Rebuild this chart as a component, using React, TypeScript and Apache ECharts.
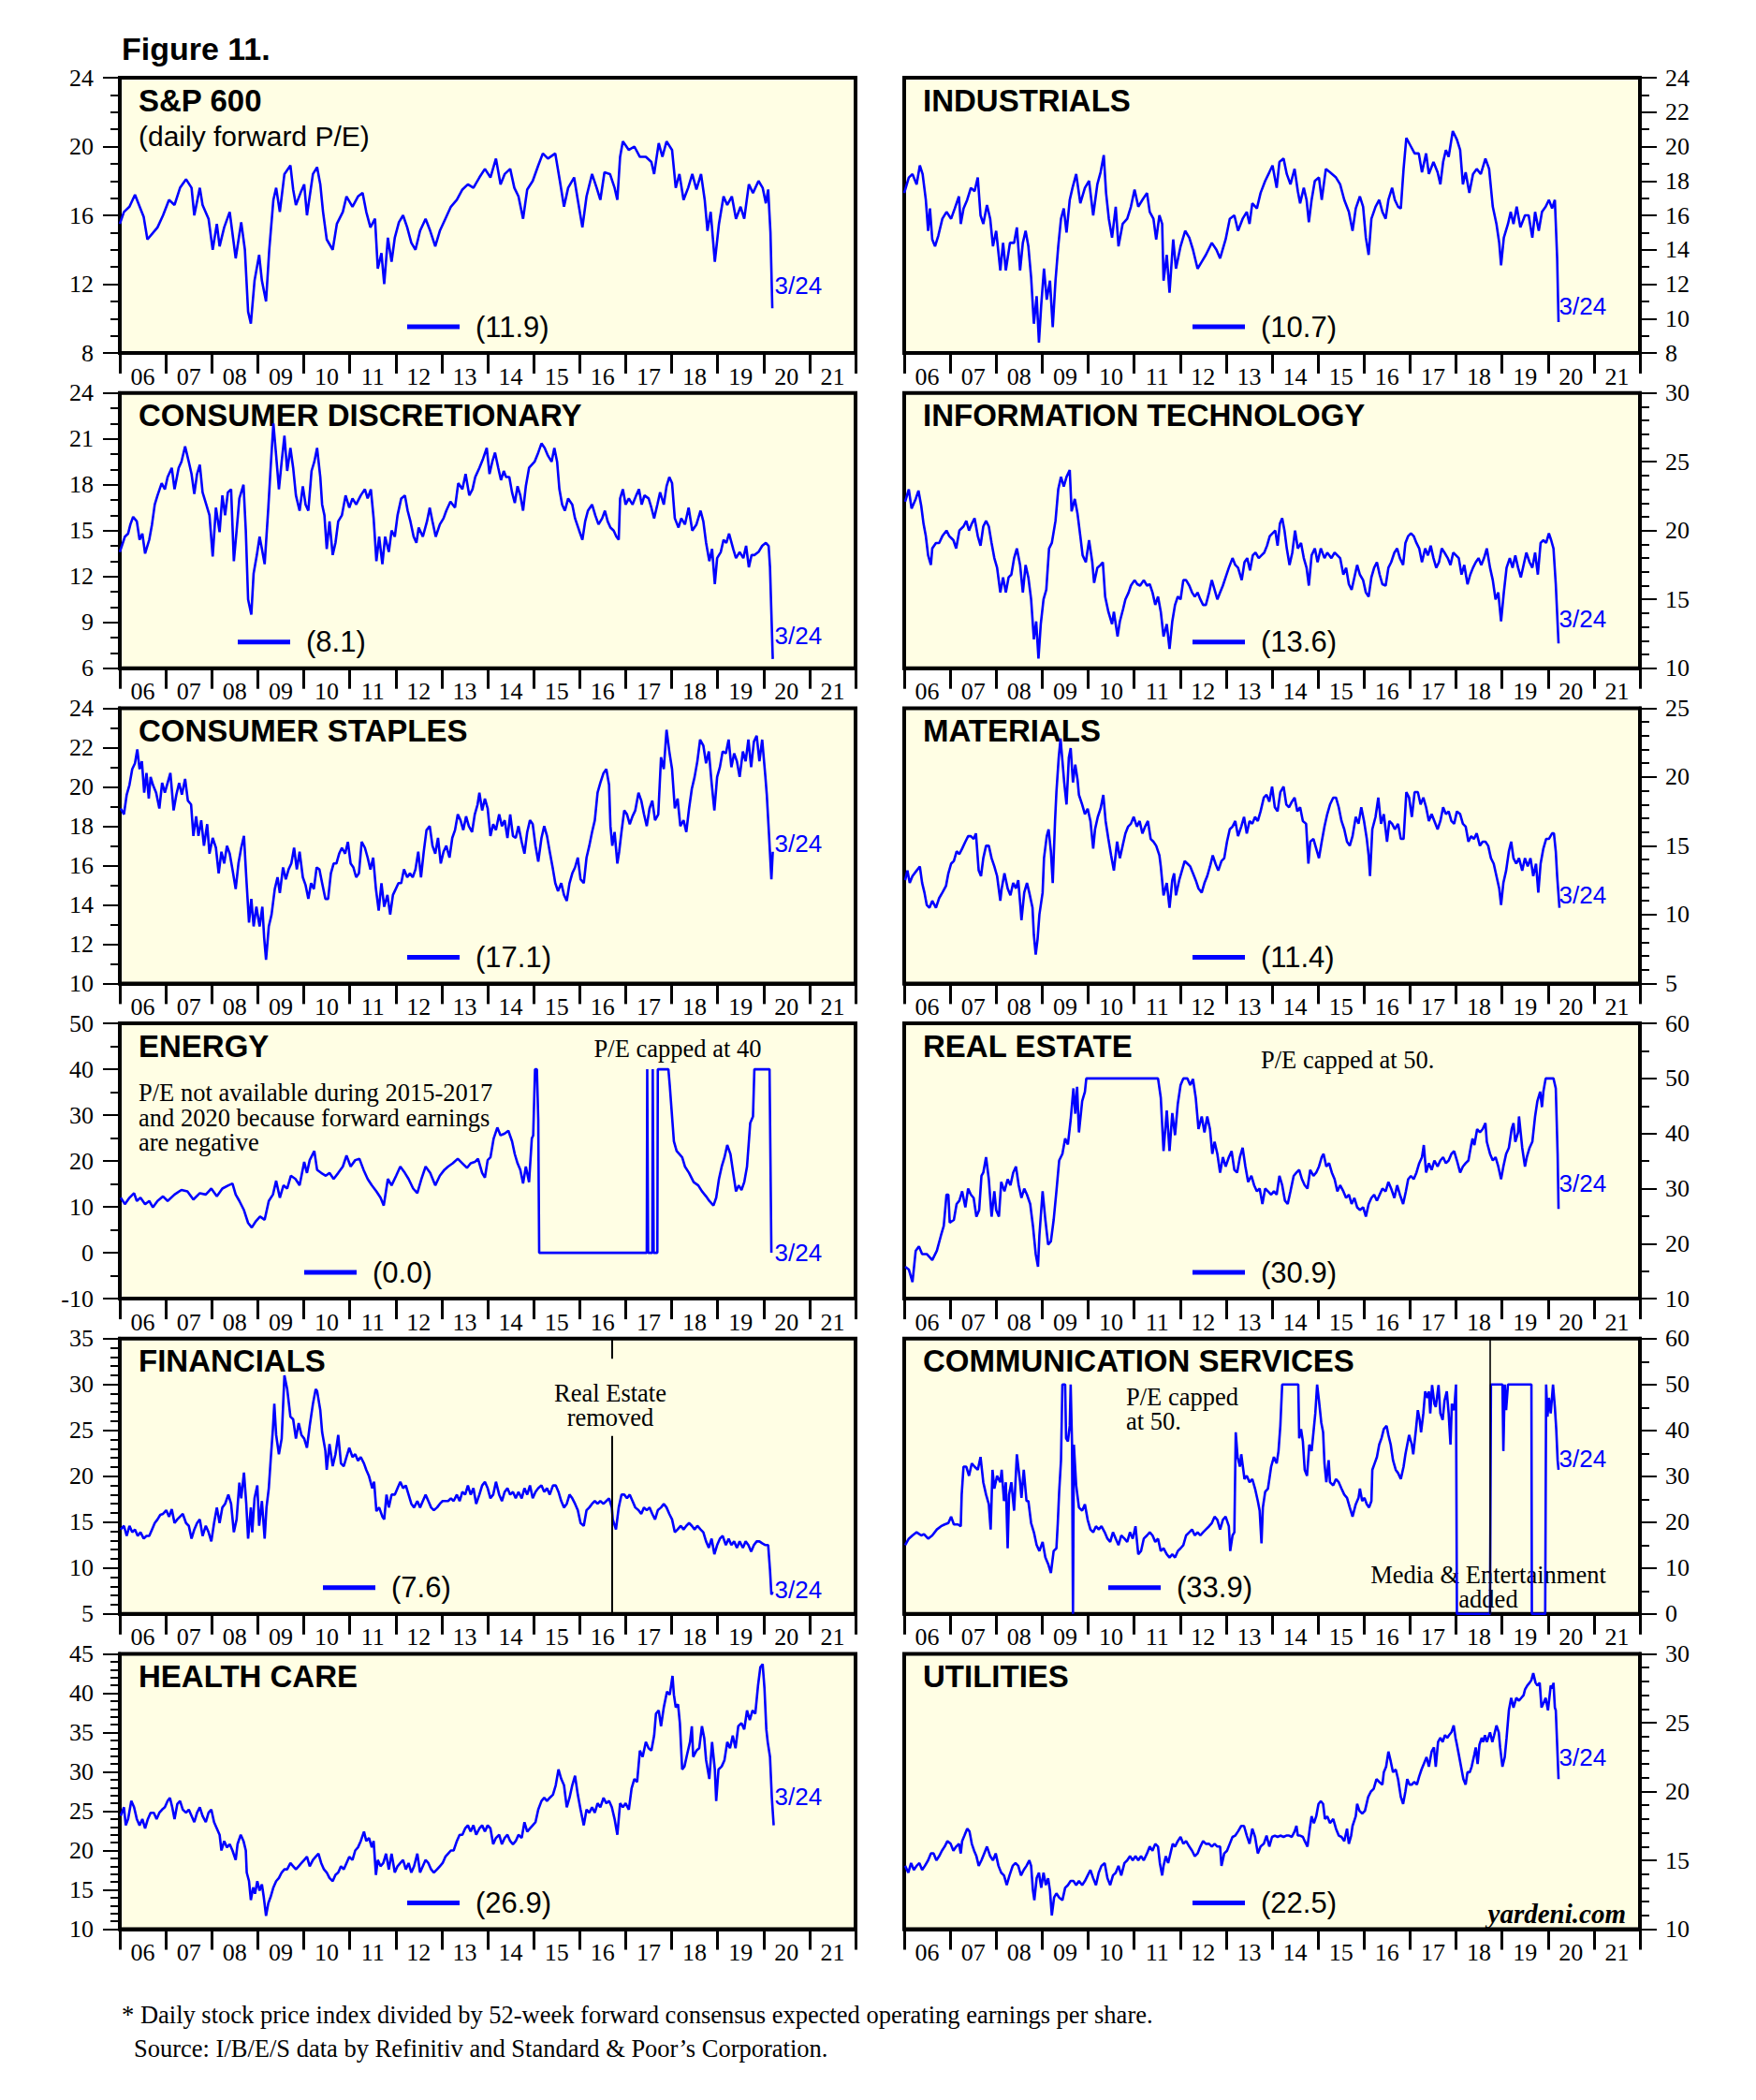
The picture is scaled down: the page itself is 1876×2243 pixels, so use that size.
import React, { useEffect, useRef } from "react";
import * as echarts from "echarts";

type Pt = [number, number];

// x labels (years) shown under every panel
const YEAR_LABELS = ["06", "07", "08", "09", "10", "11", "12", "13", "14", "15", "16", "17", "18", "19", "20", "21"];

// Series values: [years since 2006-01-01, forward P/E]
const SP600: Pt[] = [[0,15.5],[.09,16.2],[.21,16.5],[.33,17.2],[.52,15.9],[.60,14.6],[.82,15.3],[.94,16.0],[1.07,16.9],[1.19,16.6],[1.31,17.6],[1.44,18.1],[1.56,17.6],[1.62,16.0],[1.74,17.6],[1.80,16.6],[1.93,15.8],[2.02,14.0],[2.11,15.5],[2.17,14.2],[2.27,15.3],[2.39,16.2],[2.52,13.5],[2.64,15.6],[2.72,14.0],[2.79,10.4],[2.85,9.7],[2.93,12.2],[3.03,13.7],[3.09,12.2],[3.18,11.0],[3.25,14.0],[3.34,16.9],[3.40,17.6],[3.48,16.2],[3.58,18.4],[3.71,18.9],[3.77,17.5],[3.83,16.6],[3.93,17.3],[4.01,17.8],[4.07,16.0],[4.20,18.4],[4.29,18.8],[4.36,17.8],[4.42,16.2],[4.50,14.6],[4.63,14.0],[4.72,15.5],[4.85,16.2],[4.93,17.1],[5.06,16.5],[5.18,17.1],[5.28,17.3],[5.36,16.2],[5.45,15.3],[5.55,15.8],[5.61,12.9],[5.69,13.8],[5.75,12.0],[5.83,14.7],[5.91,13.3],[5.98,14.7],[6.07,15.6],[6.16,16.0],[6.25,15.3],[6.34,14.4],[6.43,14.0],[6.53,15.1],[6.65,15.8],[6.75,15.1],[6.86,14.2],[6.96,15.1],[7.08,15.8],[7.20,16.5],[7.33,16.9],[7.45,17.5],[7.57,17.8],[7.69,17.6],[7.82,18.2],[7.94,18.7],[8.06,18.2],[8.18,19.3],[8.28,17.8],[8.37,18.4],[8.49,18.7],[8.58,17.6],[8.67,17.1],[8.77,15.8],[8.86,17.5],[8.98,18.0],[9.10,18.9],[9.20,19.6],[9.31,19.3],[9.47,19.6],[9.57,18.0],[9.66,16.5],[9.75,17.6],[9.88,18.2],[9.96,16.9],[10.06,15.3],[10.15,17.1],[10.27,18.4],[10.37,17.6],[10.45,16.9],[10.54,18.5],[10.66,18.4],[10.76,17.6],[10.82,16.9],[10.88,19.4],[10.94,20.3],[11.07,19.8],[11.19,20.0],[11.31,19.4],[11.44,19.4],[11.56,19.1],[11.62,18.4],[11.72,20.2],[11.80,19.4],[11.89,20.3],[12.01,19.8],[12.09,17.6],[12.17,18.4],[12.26,16.9],[12.36,17.6],[12.45,18.4],[12.54,17.5],[12.64,18.4],[12.72,16.9],[12.78,15.1],[12.85,16.2],[12.94,13.3],[13.03,15.5],[13.13,17.1],[13.21,16.6],[13.31,17.1],[13.40,15.8],[13.50,16.5],[13.58,15.8],[13.68,17.8],[13.77,17.3],[13.89,18.0],[13.98,17.6],[14.05,16.7],[14.10,17.5],[14.15,15.0],[14.19,10.6]];

const INDUSTRIALS: Pt[] = [[0,17.3],[.10,18.2],[.18,18.4],[.27,17.8],[.34,18.9],[.40,18.4],[.47,16.9],[.52,15.1],[.56,16.4],[.61,14.6],[.67,14.2],[.74,14.8],[.83,15.8],[.92,16.2],[1.02,15.8],[1.10,16.4],[1.19,17.1],[1.23,15.5],[1.29,16.4],[1.37,16.9],[1.45,17.6],[1.53,17.4],[1.60,18.2],[1.66,16.0],[1.72,15.5],[1.80,16.6],[1.87,15.8],[1.93,14.2],[2.00,15.1],[2.09,12.8],[2.15,14.4],[2.21,12.8],[2.30,14.4],[2.39,14.4],[2.45,15.3],[2.52,12.8],[2.58,14.4],[2.64,15.1],[2.70,14.2],[2.76,12.4],[2.82,9.7],[2.88,11.3],[2.93,8.6],[2.98,10.8],[3.04,12.9],[3.10,11.1],[3.17,12.2],[3.23,9.5],[3.29,12.2],[3.35,14.2],[3.41,15.8],[3.47,16.4],[3.53,15.0],[3.60,16.9],[3.66,17.6],[3.74,18.4],[3.83,16.7],[3.93,17.6],[4.02,18.0],[4.11,16.0],[4.20,17.8],[4.27,18.5],[4.34,19.5],[4.39,17.3],[4.45,15.8],[4.52,14.7],[4.60,16.5],[4.66,14.2],[4.75,15.5],[4.85,15.8],[4.93,16.5],[5.01,17.5],[5.09,16.5],[5.18,16.9],[5.28,17.3],[5.34,16.2],[5.42,15.8],[5.48,14.6],[5.55,16.0],[5.61,15.5],[5.64,12.2],[5.71,13.7],[5.77,11.5],[5.85,14.6],[5.91,12.9],[6.01,14.2],[6.11,15.1],[6.20,14.7],[6.28,14.0],[6.38,12.9],[6.47,13.3],[6.56,13.7],[6.69,14.4],[6.79,14.0],[6.87,13.5],[6.99,14.6],[7.08,15.8],[7.18,16.0],[7.26,15.1],[7.36,15.8],[7.45,16.2],[7.51,15.5],[7.57,16.7],[7.67,16.4],[7.75,17.3],[7.85,18.0],[7.94,18.5],[8.01,18.9],[8.10,17.6],[8.16,19.1],[8.25,19.3],[8.32,18.4],[8.40,17.8],[8.49,18.7],[8.56,17.4],[8.61,16.7],[8.69,17.6],[8.75,16.9],[8.80,15.6],[8.86,16.9],[8.93,18.0],[9.02,18.2],[9.08,16.9],[9.17,18.7],[9.26,18.5],[9.39,18.2],[9.48,17.8],[9.57,16.9],[9.67,16.2],[9.75,15.1],[9.82,16.4],[9.91,17.1],[9.98,16.5],[10.04,14.7],[10.10,13.7],[10.16,15.8],[10.25,16.5],[10.33,16.9],[10.40,16.2],[10.47,15.8],[10.53,16.9],[10.61,17.6],[10.67,16.9],[10.74,16.5],[10.80,16.4],[10.86,18.7],[10.92,20.5],[11.02,20.0],[11.10,19.6],[11.19,19.6],[11.26,18.5],[11.35,19.6],[11.41,18.4],[11.51,19.1],[11.60,18.5],[11.66,17.8],[11.72,19.1],[11.78,19.8],[11.84,19.4],[11.93,20.9],[12.02,20.4],[12.09,19.8],[12.15,17.8],[12.21,18.5],[12.29,17.3],[12.37,18.4],[12.45,18.7],[12.54,18.4],[12.64,19.3],[12.72,18.7],[12.80,16.5],[12.88,15.5],[12.94,14.4],[12.98,13.1],[13.04,14.7],[13.13,15.5],[13.19,16.2],[13.25,15.5],[13.32,16.5],[13.40,15.3],[13.50,16.0],[13.58,16.0],[13.66,14.7],[13.72,16.2],[13.80,15.1],[13.87,16.2],[13.95,16.5],[14.02,16.9],[14.09,16.4],[14.15,16.9],[14.20,13.5],[14.23,9.8]];

const CONS_DISC: Pt[] = [[0,13.6],[.11,14.6],[.18,14.8],[.23,15.4],[.29,15.9],[.37,15.6],[.43,14.4],[.49,14.8],[.55,13.5],[.64,14.4],[.70,15.4],[.76,16.7],[.82,17.3],[.91,18.1],[.98,17.7],[1.04,18.5],[1.13,19.1],[1.19,17.7],[1.28,19.1],[1.34,19.5],[1.42,20.5],[1.50,19.5],[1.56,18.7],[1.62,17.4],[1.68,18.7],[1.74,19.3],[1.80,17.5],[1.88,16.7],[1.95,16.0],[2.02,13.3],[2.09,16.5],[2.17,14.9],[2.23,17.3],[2.29,16.0],[2.35,17.5],[2.42,17.7],[2.48,13.0],[2.54,15.0],[2.60,17.1],[2.69,18.0],[2.74,15.0],[2.79,10.5],[2.86,9.5],[2.91,12.2],[2.98,13.4],[3.04,14.6],[3.09,13.8],[3.15,12.8],[3.23,16.5],[3.28,19.1],[3.34,22.0],[3.40,19.9],[3.46,17.7],[3.52,19.5],[3.58,21.2],[3.64,18.9],[3.71,20.4],[3.77,19.1],[3.83,17.3],[3.91,16.3],[3.98,17.9],[4.04,16.7],[4.10,16.3],[4.17,18.9],[4.23,19.5],[4.29,20.4],[4.36,18.5],[4.40,16.7],[4.45,16.0],[4.50,13.8],[4.56,15.6],[4.63,13.4],[4.69,14.2],[4.75,15.6],[4.83,16.0],[4.91,17.3],[4.99,16.5],[5.06,17.1],[5.14,16.7],[5.24,17.3],[5.33,17.7],[5.39,17.1],[5.46,17.7],[5.52,15.8],[5.58,13.0],[5.64,14.6],[5.71,12.8],[5.77,14.6],[5.85,13.6],[5.91,15.0],[5.98,14.6],[6.04,16.0],[6.12,17.1],[6.20,17.3],[6.26,16.3],[6.32,15.6],[6.39,14.6],[6.45,14.2],[6.50,15.2],[6.59,14.6],[6.68,15.6],[6.74,16.5],[6.80,15.6],[6.87,14.6],[6.96,15.4],[7.04,15.8],[7.10,16.3],[7.19,16.9],[7.29,16.5],[7.36,18.1],[7.45,17.7],[7.52,18.7],[7.60,17.3],[7.67,17.7],[7.73,18.5],[7.82,19.1],[7.90,19.7],[7.98,20.4],[8.04,18.7],[8.10,19.5],[8.16,20.1],[8.23,19.1],[8.29,18.3],[8.35,18.9],[8.40,18.5],[8.47,18.5],[8.53,17.5],[8.59,16.8],[8.65,17.9],[8.71,17.3],[8.77,16.3],[8.83,17.9],[8.90,19.1],[8.96,19.3],[9.02,19.5],[9.10,20.1],[9.17,20.7],[9.24,20.4],[9.31,19.9],[9.39,19.5],[9.45,20.4],[9.51,19.5],[9.56,17.7],[9.62,16.7],[9.68,16.3],[9.75,17.1],[9.84,16.7],[9.90,15.8],[9.99,15.0],[10.06,14.4],[10.12,15.6],[10.18,16.3],[10.27,16.7],[10.34,16.0],[10.41,15.4],[10.49,15.8],[10.55,16.3],[10.61,15.6],[10.67,15.2],[10.74,15.0],[10.80,14.6],[10.85,14.4],[10.88,17.1],[10.94,17.7],[11.00,16.7],[11.07,17.1],[11.15,16.7],[11.23,17.3],[11.29,17.7],[11.35,16.7],[11.41,17.3],[11.50,17.1],[11.56,16.5],[11.62,15.8],[11.69,16.7],[11.75,17.5],[11.83,16.7],[11.89,17.9],[11.95,18.5],[12.01,18.1],[12.07,15.8],[12.15,15.2],[12.21,15.8],[12.29,15.4],[12.37,16.5],[12.45,15.0],[12.54,15.4],[12.63,16.3],[12.69,15.6],[12.75,14.2],[12.82,13.0],[12.88,13.8],[12.94,11.5],[12.99,13.2],[13.07,13.6],[13.13,14.4],[13.19,14.2],[13.25,14.8],[13.34,13.8],[13.40,13.2],[13.48,13.6],[13.56,13.2],[13.62,14.0],[13.68,12.6],[13.74,13.4],[13.80,13.4],[13.89,13.6],[13.97,14.0],[14.05,14.2],[14.11,14.0],[14.14,12.6],[14.20,6.6]];

const INFO_TECH: Pt[] = [[.02,22.1],[.10,23.0],[.16,21.6],[.25,22.3],[.31,22.9],[.37,21.8],[.42,20.5],[.47,19.6],[.52,18.2],[.58,17.5],[.61,18.7],[.69,19.1],[.76,19.1],[.83,19.6],[.92,20.0],[.98,19.6],[1.07,19.3],[1.13,18.7],[1.20,20.0],[1.29,20.3],[1.35,20.7],[1.41,20.0],[1.47,20.5],[1.53,20.9],[1.60,19.6],[1.66,18.9],[1.72,20.3],[1.78,20.7],[1.84,20.3],[1.90,19.1],[1.96,18.0],[2.02,17.3],[2.09,15.5],[2.15,16.6],[2.21,15.5],[2.27,16.6],[2.33,16.8],[2.39,18.0],[2.45,18.7],[2.52,17.5],[2.58,15.5],[2.64,17.5],[2.70,16.6],[2.76,15.0],[2.82,12.1],[2.87,13.4],[2.92,10.7],[2.97,13.2],[3.03,15.0],[3.09,15.7],[3.15,18.7],[3.21,19.1],[3.29,20.7],[3.35,23.0],[3.41,23.9],[3.47,23.2],[3.53,23.9],[3.60,24.4],[3.64,21.4],[3.71,22.3],[3.77,21.2],[3.83,19.6],[3.88,18.2],[3.95,17.7],[4.02,19.3],[4.09,17.7],[4.13,16.2],[4.20,17.3],[4.27,17.5],[4.32,17.7],[4.37,15.2],[4.44,14.1],[4.52,13.2],[4.56,14.1],[4.64,12.3],[4.69,13.4],[4.76,14.3],[4.81,15.0],[4.88,15.5],[4.93,16.0],[5.01,16.4],[5.07,16.1],[5.13,16.0],[5.21,16.4],[5.28,16.0],[5.34,16.1],[5.40,15.5],[5.46,14.6],[5.52,15.2],[5.58,14.1],[5.64,12.3],[5.71,13.2],[5.77,11.4],[5.83,13.4],[5.89,14.6],[5.95,15.2],[6.01,15.0],[6.07,16.4],[6.13,16.4],[6.20,16.0],[6.26,15.5],[6.32,15.2],[6.38,15.5],[6.44,15.0],[6.50,14.6],[6.56,14.6],[6.63,15.5],[6.69,16.4],[6.75,15.7],[6.81,15.0],[6.87,15.5],[6.93,16.0],[6.99,16.6],[7.06,17.3],[7.14,18.0],[7.20,17.5],[7.26,17.3],[7.34,16.4],[7.40,17.7],[7.46,18.0],[7.52,17.1],[7.58,18.2],[7.64,18.4],[7.71,18.0],[7.77,18.2],[7.83,18.4],[7.89,18.9],[7.95,19.6],[8.01,19.8],[8.07,20.0],[8.12,18.9],[8.17,20.5],[8.22,20.9],[8.27,20.0],[8.32,18.7],[8.38,17.5],[8.44,18.4],[8.50,20.0],[8.56,18.7],[8.63,19.1],[8.69,18.0],[8.75,17.3],[8.80,16.0],[8.86,18.2],[8.93,18.7],[8.99,17.7],[9.06,18.7],[9.14,18.0],[9.20,18.4],[9.29,18.0],[9.36,18.4],[9.42,18.2],[9.48,18.0],[9.55,16.8],[9.61,17.3],[9.67,16.1],[9.73,15.7],[9.79,16.6],[9.85,17.5],[9.91,16.8],[9.98,16.4],[10.04,15.5],[10.10,15.2],[10.16,16.6],[10.22,17.3],[10.28,17.7],[10.34,16.8],[10.40,16.1],[10.47,16.0],[10.53,17.3],[10.59,17.7],[10.66,18.4],[10.72,18.7],[10.78,18.0],[10.85,17.5],[10.90,19.1],[10.96,19.6],[11.02,19.8],[11.08,19.6],[11.14,19.1],[11.20,18.7],[11.26,17.7],[11.33,18.7],[11.39,18.2],[11.45,18.9],[11.51,18.0],[11.57,17.3],[11.63,17.7],[11.69,18.7],[11.75,18.4],[11.82,18.0],[11.88,17.5],[11.94,18.4],[12.00,18.2],[12.06,18.0],[12.12,16.8],[12.18,17.5],[12.25,16.1],[12.31,16.8],[12.37,17.3],[12.43,17.7],[12.49,18.0],[12.55,17.5],[12.61,18.0],[12.67,18.7],[12.74,17.3],[12.80,16.4],[12.86,15.0],[12.92,15.5],[12.98,13.4],[13.04,15.5],[13.10,17.3],[13.17,18.0],[13.23,17.3],[13.29,18.2],[13.35,17.3],[13.41,16.6],[13.47,17.5],[13.53,18.4],[13.60,17.7],[13.66,17.3],[13.72,18.4],[13.78,16.8],[13.84,19.1],[13.90,19.3],[13.96,19.1],[14.02,19.8],[14.07,19.3],[14.12,18.7],[14.17,16.1],[14.23,11.8]];

const CONS_STAPLES: Pt[] = [[.02,18.9],[.09,18.6],[.15,19.6],[.21,20.1],[.27,20.9],[.33,21.2],[.38,21.9],[.43,20.9],[.48,21.3],[.53,19.7],[.58,20.7],[.63,19.4],[.67,20.5],[.72,20.1],[.79,19.7],[.86,18.9],[.92,20.2],[.98,19.7],[1.04,20.2],[1.10,20.7],[1.17,18.8],[1.23,19.6],[1.29,20.2],[1.35,19.6],[1.42,20.4],[1.48,19.3],[1.55,19.1],[1.60,17.5],[1.66,18.5],[1.71,17.5],[1.77,18.3],[1.83,17.0],[1.90,18.1],[1.95,16.6],[2.02,17.4],[2.09,16.9],[2.15,15.6],[2.21,16.7],[2.27,16.1],[2.33,17.0],[2.39,16.6],[2.45,15.8],[2.52,14.8],[2.58,16.1],[2.64,16.9],[2.70,17.5],[2.75,15.4],[2.81,13.1],[2.86,14.3],[2.91,12.9],[2.97,13.9],[3.04,12.9],[3.10,13.9],[3.14,12.3],[3.18,11.2],[3.24,12.9],[3.30,13.5],[3.37,14.8],[3.43,15.4],[3.48,14.6],[3.55,15.9],[3.61,15.3],[3.67,15.8],[3.73,16.1],[3.79,16.9],[3.85,15.8],[3.91,16.7],[3.98,15.4],[4.04,15.0],[4.10,14.3],[4.16,15.1],[4.22,14.8],[4.28,15.9],[4.34,15.8],[4.40,15.1],[4.47,14.3],[4.53,14.3],[4.59,15.6],[4.65,16.1],[4.71,16.1],[4.77,16.6],[4.83,16.9],[4.90,16.6],[4.96,17.2],[5.02,16.1],[5.08,15.9],[5.14,15.4],[5.20,15.6],[5.26,17.2],[5.33,16.9],[5.39,16.4],[5.45,15.8],[5.51,16.4],[5.57,14.8],[5.63,13.7],[5.69,15.1],[5.75,13.9],[5.82,14.5],[5.88,13.5],[5.94,14.5],[6.00,14.8],[6.06,15.1],[6.12,15.1],[6.18,15.8],[6.25,15.4],[6.31,15.6],[6.37,15.4],[6.43,15.8],[6.49,16.7],[6.55,15.4],[6.61,16.7],[6.67,17.8],[6.74,18.0],[6.80,17.0],[6.86,16.6],[6.92,17.4],[6.98,16.1],[7.04,16.7],[7.10,17.0],[7.17,16.4],[7.23,17.4],[7.29,17.8],[7.35,18.6],[7.41,18.3],[7.47,17.8],[7.53,18.5],[7.59,18.0],[7.66,17.7],[7.72,18.6],[7.78,19.1],[7.82,19.7],[7.88,18.8],[7.94,19.4],[8.00,18.9],[8.06,17.5],[8.12,18.1],[8.18,17.8],[8.25,18.6],[8.31,18.0],[8.37,18.3],[8.43,17.4],[8.49,18.6],[8.55,17.5],[8.61,17.4],[8.67,18.0],[8.74,17.2],[8.80,16.6],[8.86,17.7],[8.92,18.3],[8.98,18.1],[9.04,17.0],[9.10,16.2],[9.17,17.4],[9.23,18.0],[9.29,17.5],[9.35,16.7],[9.42,15.8],[9.47,15.1],[9.53,14.7],[9.60,15.1],[9.66,14.5],[9.72,14.2],[9.78,15.1],[9.84,15.6],[9.90,15.9],[9.96,16.4],[10.02,15.3],[10.09,15.1],[10.15,16.4],[10.21,17.0],[10.27,17.7],[10.33,18.3],[10.39,19.7],[10.45,20.2],[10.52,20.7],[10.58,20.9],[10.64,20.1],[10.67,18.0],[10.71,17.0],[10.76,17.7],[10.82,16.1],[10.86,16.7],[10.91,17.7],[10.97,18.8],[11.03,18.6],[11.09,18.1],[11.15,18.5],[11.21,18.8],[11.28,19.7],[11.34,19.3],[11.40,18.6],[11.46,18.0],[11.52,18.9],[11.58,19.3],[11.64,18.3],[11.71,18.6],[11.77,21.5],[11.83,20.9],[11.89,22.9],[11.95,21.8],[12.01,20.9],[12.07,18.9],[12.13,19.4],[12.19,18.0],[12.26,18.3],[12.32,17.7],[12.38,18.9],[12.44,19.9],[12.50,20.5],[12.56,21.3],[12.62,22.4],[12.69,22.1],[12.75,21.2],[12.81,21.8],[12.87,20.2],[12.93,18.8],[12.99,20.5],[13.05,21.0],[13.11,21.8],[13.18,21.7],[13.24,22.4],[13.30,21.0],[13.36,21.7],[13.42,21.3],[13.48,20.5],[13.55,21.8],[13.61,21.3],[13.67,22.4],[13.73,21.0],[13.79,22.3],[13.85,22.6],[13.91,21.3],[13.97,22.4],[14.04,20.5],[14.07,19.6],[14.12,17.5],[14.17,15.3],[14.20,16.7]];

const MATERIALS: Pt[] = [[.02,12.5],[.07,13.2],[.12,12.3],[.18,12.8],[.27,13.2],[.34,13.5],[.39,12.3],[.44,11.6],[.49,10.7],[.55,10.5],[.61,11.0],[.69,10.5],[.76,11.2],[.83,11.6],[.91,12.1],[.96,13.0],[1.02,13.7],[1.08,13.9],[1.14,14.6],[1.20,14.4],[1.26,14.8],[1.33,15.3],[1.39,15.7],[1.45,15.7],[1.51,15.5],[1.56,15.9],[1.62,13.2],[1.67,12.8],[1.72,14.1],[1.78,15.0],[1.84,15.0],[1.90,14.1],[1.96,13.5],[2.02,12.8],[2.09,11.0],[2.12,11.9],[2.18,13.0],[2.25,11.9],[2.31,11.4],[2.37,12.3],[2.43,11.9],[2.48,12.5],[2.53,10.5],[2.55,9.6],[2.61,11.6],[2.67,12.3],[2.72,11.6],[2.79,10.5],[2.82,8.5],[2.86,7.1],[2.90,8.2],[2.94,10.0],[3.01,11.6],[3.04,14.1],[3.10,15.7],[3.14,16.2],[3.19,14.6],[3.23,12.3],[3.28,16.8],[3.31,18.9],[3.36,21.4],[3.40,22.8],[3.44,21.2],[3.48,19.6],[3.53,18.0],[3.58,21.4],[3.62,22.1],[3.67,19.6],[3.72,20.9],[3.77,19.8],[3.80,18.7],[3.87,18.0],[3.93,17.3],[3.99,17.7],[4.05,16.8],[4.11,14.8],[4.15,16.2],[4.21,17.1],[4.27,17.7],[4.33,18.7],[4.38,16.8],[4.44,15.5],[4.50,14.3],[4.56,13.2],[4.63,15.3],[4.69,14.1],[4.75,15.0],[4.81,15.9],[4.87,16.4],[4.93,16.6],[4.99,17.1],[5.06,16.4],[5.12,16.8],[5.18,15.9],[5.24,16.4],[5.30,16.8],[5.36,15.5],[5.42,15.3],[5.48,15.0],[5.55,14.3],[5.58,13.5],[5.64,11.4],[5.71,12.3],[5.77,10.5],[5.83,12.5],[5.87,13.0],[5.91,11.4],[5.98,12.5],[6.04,13.2],[6.10,13.9],[6.16,13.7],[6.22,13.5],[6.28,13.0],[6.34,12.5],[6.40,11.9],[6.47,11.6],[6.53,12.3],[6.59,12.8],[6.65,13.5],[6.71,14.3],[6.77,13.7],[6.83,13.2],[6.90,13.9],[6.96,14.1],[7.02,15.3],[7.08,16.2],[7.14,16.4],[7.20,16.8],[7.26,15.7],[7.33,16.4],[7.39,17.1],[7.45,15.9],[7.51,16.8],[7.57,16.6],[7.63,17.1],[7.69,16.8],[7.75,17.5],[7.82,18.5],[7.88,18.7],[7.94,18.2],[8.00,19.3],[8.06,17.8],[8.12,17.5],[8.18,18.9],[8.25,19.3],[8.31,18.0],[8.37,17.8],[8.43,18.2],[8.49,18.5],[8.55,17.5],[8.61,17.8],[8.67,16.8],[8.74,16.6],[8.79,13.7],[8.83,15.3],[8.90,15.5],[8.96,14.8],[9.02,14.1],[9.08,15.3],[9.14,16.4],[9.20,17.3],[9.26,18.0],[9.33,18.5],[9.39,18.5],[9.45,17.8],[9.51,16.8],[9.57,16.2],[9.63,15.3],[9.69,15.0],[9.75,15.7],[9.82,17.1],[9.88,16.6],[9.94,17.8],[10.00,16.8],[10.06,15.5],[10.10,14.3],[10.13,12.8],[10.18,16.2],[10.25,17.1],[10.31,18.5],[10.37,16.6],[10.43,17.3],[10.50,15.3],[10.55,16.8],[10.61,16.6],[10.67,16.2],[10.74,16.6],[10.80,15.5],[10.86,15.5],[10.92,18.9],[10.98,18.5],[11.04,17.1],[11.10,18.9],[11.17,18.9],[11.23,18.0],[11.29,18.5],[11.35,17.8],[11.41,16.8],[11.47,17.3],[11.53,16.8],[11.60,16.2],[11.66,16.8],[11.72,17.8],[11.78,17.3],[11.84,17.5],[11.90,16.8],[11.96,16.6],[12.02,17.5],[12.09,17.3],[12.15,16.6],[12.21,16.4],[12.27,15.3],[12.33,15.7],[12.39,15.5],[12.45,15.9],[12.52,15.0],[12.58,15.3],[12.64,15.3],[12.70,15.0],[12.76,14.1],[12.82,13.7],[12.88,12.8],[12.94,11.9],[12.98,10.7],[13.03,12.3],[13.09,13.2],[13.15,14.6],[13.20,15.3],[13.25,14.1],[13.31,13.7],[13.37,14.1],[13.44,13.2],[13.50,14.1],[13.56,13.5],[13.62,14.1],[13.68,12.8],[13.74,13.7],[13.79,11.6],[13.84,13.7],[13.90,14.8],[13.96,15.5],[14.02,15.5],[14.09,15.9],[14.13,15.9],[14.17,14.6],[14.20,12.8],[14.25,10.5]];

const ENERGY: Pt[] = [[.02,12.0],[.11,10.6],[.21,12.0],[.31,13.0],[.37,11.3],[.45,12.0],[.55,10.6],[.64,11.3],[.72,9.9],[.82,11.3],[.94,12.3],[1.04,11.3],[1.19,12.7],[1.34,13.7],[1.47,13.4],[1.60,11.6],[1.74,13.0],[1.87,12.7],[1.99,14.0],[2.11,12.3],[2.23,14.0],[2.36,14.7],[2.45,15.1],[2.52,12.7],[2.60,11.3],[2.70,9.3],[2.79,6.5],[2.87,5.5],[2.96,6.9],[3.05,7.9],[3.15,7.2],[3.24,11.3],[3.33,12.7],[3.40,15.7],[3.48,12.0],[3.56,14.7],[3.64,14.0],[3.72,16.8],[3.82,16.1],[3.91,14.7],[4.01,19.8],[4.07,17.4],[4.13,20.2],[4.23,22.2],[4.29,18.1],[4.38,17.4],[4.48,16.8],[4.56,17.4],[4.65,16.1],[4.75,17.4],[4.85,18.8],[4.93,21.2],[5.02,18.8],[5.12,20.2],[5.21,20.5],[5.30,18.1],[5.39,16.1],[5.48,14.7],[5.58,13.4],[5.67,12.0],[5.74,10.3],[5.83,16.1],[5.91,14.7],[6.01,16.8],[6.10,18.8],[6.20,17.4],[6.28,16.1],[6.38,14.0],[6.47,13.0],[6.56,16.1],[6.65,18.8],[6.75,17.4],[6.86,14.7],[6.96,16.8],[7.06,18.1],[7.14,18.8],[7.24,19.5],[7.35,20.5],[7.45,19.5],[7.55,18.5],[7.63,19.5],[7.72,19.8],[7.79,20.5],[7.88,17.4],[7.94,16.4],[8.00,20.2],[8.06,20.8],[8.13,24.9],[8.21,27.3],[8.28,25.6],[8.37,26.0],[8.45,26.6],[8.53,24.3],[8.59,21.5],[8.65,19.5],[8.71,18.1],[8.77,15.1],[8.83,18.8],[8.90,15.4],[8.96,24.9],[8.99,25.6],[9.03,40],[9.07,40],[9.10,29.0],[9.12,0],[11.46,0],[11.47,40],[11.48,40],[11.49,0],[11.58,0],[11.59,40],[11.60,40],[11.61,0],[11.69,0],[11.70,40],[11.93,40],[11.96,36.5],[12.05,24.3],[12.11,22.2],[12.23,20.8],[12.29,18.8],[12.38,17.4],[12.48,15.4],[12.58,14.7],[12.66,13.4],[12.75,12.3],[12.82,11.3],[12.91,10.3],[12.97,12.0],[13.03,16.1],[13.09,18.8],[13.15,20.8],[13.21,23.5],[13.28,21.5],[13.34,17.4],[13.40,13.4],[13.46,14.7],[13.52,13.7],[13.58,15.4],[13.64,18.8],[13.71,28.3],[13.77,29.7],[13.80,40],[14.13,40],[14.17,0]];

const REAL_ESTATE: Pt[] = [[.02,15.8],[.10,15.3],[.18,13.0],[.25,18.7],[.32,19.5],[.39,18.1],[.49,18.1],[.61,17.0],[.71,18.7],[.80,21.5],[.86,23.2],[.92,28.9],[.96,28.9],[.99,23.8],[1.08,24.3],[1.14,27.2],[1.20,27.8],[1.26,29.5],[1.33,26.6],[1.39,30.0],[1.45,28.9],[1.51,28.3],[1.57,24.9],[1.63,26.1],[1.68,32.3],[1.72,32.9],[1.78,35.7],[1.84,31.7],[1.90,24.9],[1.96,29.5],[2.00,26.1],[2.06,24.9],[2.11,31.2],[2.18,29.5],[2.25,31.7],[2.31,30.6],[2.37,32.9],[2.43,34.0],[2.49,30.6],[2.55,28.3],[2.61,30.0],[2.67,28.9],[2.74,27.2],[2.80,23.2],[2.86,18.1],[2.91,15.8],[2.94,21.5],[3.01,29.5],[3.07,24.3],[3.13,19.8],[3.19,20.4],[3.25,24.3],[3.31,29.5],[3.37,35.1],[3.44,36.3],[3.50,39.1],[3.56,38.0],[3.62,42.5],[3.68,48.2],[3.72,43.6],[3.76,48.5],[3.80,40.2],[3.87,45.9],[3.93,47.6],[3.96,50],[5.52,50],[5.58,46.5],[5.64,36.8],[5.71,44.2],[5.77,36.8],[5.83,43.7],[5.89,39.7],[5.95,45.4],[6.01,48.8],[6.07,50],[6.16,50],[6.22,48.8],[6.28,49.9],[6.34,46.5],[6.40,40.8],[6.47,43.1],[6.53,40.2],[6.59,43.1],[6.65,40.8],[6.70,36.3],[6.75,38.5],[6.81,36.3],[6.87,32.9],[6.93,35.7],[6.99,34.0],[7.06,35.7],[7.12,36.8],[7.18,33.4],[7.24,32.9],[7.30,35.7],[7.36,37.4],[7.42,34.0],[7.48,31.2],[7.55,32.3],[7.61,30.6],[7.67,29.5],[7.73,30.0],[7.79,27.2],[7.85,30.0],[7.91,29.5],[7.98,28.9],[8.04,29.5],[8.10,28.9],[8.16,32.3],[8.22,30.6],[8.28,27.8],[8.34,27.2],[8.40,29.5],[8.47,32.3],[8.53,32.9],[8.59,33.4],[8.65,31.7],[8.71,30.6],[8.77,30.0],[8.83,33.4],[8.90,32.3],[8.96,32.9],[9.02,34.0],[9.08,35.7],[9.12,36.3],[9.18,34.0],[9.24,34.6],[9.30,32.9],[9.36,31.7],[9.42,29.5],[9.48,30.6],[9.55,29.5],[9.61,28.3],[9.67,28.9],[9.73,27.2],[9.79,28.3],[9.85,26.6],[9.91,26.1],[9.98,26.6],[10.04,24.9],[10.10,27.2],[10.16,28.3],[10.22,28.9],[10.28,27.8],[10.34,28.9],[10.40,30.0],[10.47,29.5],[10.53,31.2],[10.59,30.0],[10.66,28.3],[10.72,30.6],[10.78,28.9],[10.85,27.2],[10.91,29.5],[10.96,31.7],[11.02,32.3],[11.08,31.7],[11.14,32.9],[11.20,34.6],[11.26,35.7],[11.30,37.9],[11.35,32.9],[11.41,34.6],[11.47,33.4],[11.53,35.1],[11.60,34.0],[11.66,35.1],[11.72,35.7],[11.78,34.6],[11.84,35.1],[11.90,36.3],[11.96,36.8],[12.02,35.1],[12.09,32.9],[12.15,34.0],[12.21,34.6],[12.27,35.1],[12.33,37.9],[12.36,39.1],[12.40,37.9],[12.46,40.8],[12.52,40.2],[12.58,40.8],[12.64,41.9],[12.67,38.5],[12.74,36.3],[12.80,35.1],[12.86,35.7],[12.92,34.0],[12.98,31.7],[13.03,34.0],[13.09,36.3],[13.15,37.4],[13.21,40.8],[13.25,41.9],[13.29,38.5],[13.35,40.2],[13.37,43.1],[13.44,37.4],[13.50,34.0],[13.54,35.7],[13.60,37.4],[13.66,38.5],[13.72,43.1],[13.77,45.9],[13.83,47.6],[13.87,44.8],[13.90,47.6],[13.95,50],[14.12,50],[14.17,48.2],[14.21,36.3],[14.23,26.3]];

const FINANCIALS: Pt[] = [[.02,14.2],[.09,14.6],[.15,13.5],[.21,14.6],[.27,13.9],[.33,14.2],[.39,13.5],[.45,13.9],[.52,13.2],[.58,13.5],[.64,13.5],[.70,14.2],[.76,14.9],[.82,15.3],[.88,15.8],[.94,15.9],[1.01,16.3],[1.07,15.6],[1.13,16.4],[1.19,14.9],[1.25,15.3],[1.31,15.6],[1.37,15.9],[1.44,14.9],[1.50,14.6],[1.56,13.2],[1.62,14.2],[1.68,14.9],[1.74,15.3],[1.80,13.5],[1.87,14.6],[1.93,13.9],[1.99,12.9],[2.05,14.9],[2.11,16.6],[2.17,14.9],[2.23,16.6],[2.29,17.0],[2.36,18.0],[2.42,17.0],[2.48,13.9],[2.54,15.3],[2.60,19.3],[2.64,17.6],[2.70,20.4],[2.75,17.0],[2.79,13.2],[2.85,16.6],[2.88,13.9],[2.93,17.6],[2.99,19.0],[3.03,14.6],[3.09,17.3],[3.15,13.2],[3.19,16.6],[3.24,18.7],[3.28,21.7],[3.33,25.2],[3.36,27.9],[3.40,24.5],[3.46,22.4],[3.52,24.1],[3.58,31.0],[3.64,29.5],[3.71,26.5],[3.77,26.2],[3.83,24.1],[3.89,25.8],[3.95,24.5],[4.01,24.1],[4.07,23.1],[4.13,25.5],[4.20,27.9],[4.26,29.5],[4.29,29.3],[4.36,27.2],[4.40,24.8],[4.47,22.8],[4.50,20.7],[4.56,23.5],[4.63,21.1],[4.69,22.4],[4.75,24.5],[4.81,21.4],[4.87,21.1],[4.93,22.1],[4.99,23.1],[5.06,22.1],[5.12,22.4],[5.18,21.7],[5.24,22.1],[5.31,21.4],[5.36,20.7],[5.42,20.0],[5.49,18.7],[5.53,19.4],[5.58,16.2],[5.64,16.6],[5.71,15.6],[5.75,15.3],[5.80,18.0],[5.85,16.6],[5.91,18.0],[5.98,18.0],[6.04,18.7],[6.10,19.4],[6.16,18.7],[6.22,19.0],[6.28,18.0],[6.34,17.0],[6.40,16.6],[6.47,17.3],[6.53,16.6],[6.59,17.3],[6.65,18.0],[6.71,17.3],[6.77,16.6],[6.83,16.3],[6.90,16.6],[6.96,17.0],[7.02,17.3],[7.08,17.3],[7.14,17.3],[7.20,17.6],[7.26,17.3],[7.33,18.0],[7.39,17.3],[7.45,18.3],[7.51,18.0],[7.57,19.0],[7.63,18.0],[7.69,18.7],[7.75,17.0],[7.82,18.0],[7.88,19.0],[7.94,19.4],[8.00,18.7],[8.06,17.6],[8.12,18.0],[8.18,19.4],[8.25,18.0],[8.31,17.3],[8.37,18.3],[8.43,18.7],[8.49,18.0],[8.55,18.3],[8.61,17.6],[8.67,18.3],[8.74,17.6],[8.80,18.7],[8.86,18.0],[8.92,19.0],[8.98,17.6],[9.04,18.3],[9.10,18.7],[9.17,19.0],[9.23,18.3],[9.29,18.7],[9.35,18.0],[9.42,19.0],[9.48,19.0],[9.54,18.3],[9.60,17.3],[9.66,16.6],[9.72,17.0],[9.78,18.0],[9.84,17.6],[9.90,17.0],[9.96,16.3],[10.02,14.9],[10.09,14.6],[10.15,16.3],[10.21,16.6],[10.27,17.0],[10.33,17.3],[10.39,17.0],[10.45,17.3],[10.52,17.0],[10.58,17.3],[10.64,17.6],[10.70,16.6],[10.72,15.3],[10.79,14.2],[10.85,16.6],[10.91,18.0],[10.97,18.0],[11.03,17.6],[11.09,18.0],[11.15,17.3],[11.21,16.6],[11.28,16.3],[11.34,15.9],[11.40,16.6],[11.46,16.3],[11.52,16.6],[11.58,15.9],[11.64,15.3],[11.70,16.3],[11.77,16.6],[11.83,17.0],[11.89,16.6],[11.95,15.9],[12.01,15.3],[12.07,13.9],[12.13,14.2],[12.20,14.6],[12.26,14.2],[12.32,14.6],[12.38,14.9],[12.44,14.6],[12.50,14.2],[12.56,14.6],[12.63,14.2],[12.69,13.9],[12.75,12.9],[12.81,12.2],[12.87,13.2],[12.93,11.5],[12.99,12.5],[13.05,13.2],[13.11,13.5],[13.18,12.5],[13.24,13.2],[13.30,12.5],[13.36,12.9],[13.42,12.2],[13.48,12.9],[13.55,12.2],[13.61,12.9],[13.67,12.5],[13.73,11.8],[13.79,12.5],[13.85,12.9],[13.91,12.9],[13.97,12.7],[14.04,12.5],[14.10,12.5],[14.14,9.8],[14.17,7.1],[14.20,7.4]];

const COMM_SERVICES: Pt[] = [[.02,15.0],[.10,16.4],[.18,17.1],[.27,17.8],[.37,17.1],[.43,17.4],[.52,16.4],[.61,17.1],[.71,18.4],[.80,19.1],[.88,19.5],[.96,19.8],[1.02,21.2],[1.08,19.5],[1.17,19.5],[1.23,19.1],[1.25,26.0],[1.29,32.1],[1.35,32.1],[1.41,30.1],[1.47,32.8],[1.53,32.1],[1.60,31.4],[1.66,34.2],[1.72,28.7],[1.78,26.0],[1.84,23.9],[1.88,18.4],[1.92,31.4],[1.96,27.3],[2.02,30.1],[2.09,28.7],[2.12,31.4],[2.17,24.6],[2.21,28.7],[2.25,14.3],[2.28,26.0],[2.33,28.7],[2.39,22.5],[2.45,34.8],[2.52,28.7],[2.55,25.3],[2.60,31.4],[2.66,24.6],[2.70,24.6],[2.76,19.8],[2.82,17.8],[2.88,15.0],[2.94,13.7],[3.01,15.7],[3.07,12.3],[3.13,10.9],[3.19,8.9],[3.25,13.7],[3.31,14.3],[3.34,19.8],[3.37,26.6],[3.41,33.5],[3.44,50],[3.50,50],[3.52,38.3],[3.56,37.6],[3.60,41.0],[3.62,50],[3.65,36.9],[3.67,0],[3.69,36.9],[3.74,28.0],[3.80,23.2],[3.87,22.5],[3.93,23.9],[3.99,20.5],[4.05,18.4],[4.11,17.8],[4.17,19.1],[4.23,18.4],[4.29,19.1],[4.36,17.8],[4.42,16.4],[4.48,15.7],[4.54,17.8],[4.60,16.4],[4.66,15.0],[4.72,17.1],[4.79,16.4],[4.85,15.7],[4.91,17.8],[4.97,16.4],[5.03,19.1],[5.09,13.0],[5.15,13.7],[5.21,16.4],[5.28,17.1],[5.34,17.8],[5.40,17.1],[5.46,15.7],[5.52,16.4],[5.58,13.7],[5.64,14.3],[5.71,13.0],[5.77,12.3],[5.83,13.0],[5.89,12.3],[5.95,13.7],[6.01,14.3],[6.07,15.0],[6.13,17.1],[6.20,17.8],[6.26,18.4],[6.32,17.1],[6.38,17.8],[6.44,17.1],[6.50,17.8],[6.56,18.4],[6.63,19.1],[6.69,19.8],[6.75,21.2],[6.81,20.5],[6.87,18.4],[6.93,20.5],[6.99,21.2],[7.06,19.1],[7.09,13.7],[7.14,17.1],[7.18,17.8],[7.21,39.6],[7.25,34.2],[7.30,32.1],[7.33,34.8],[7.40,29.4],[7.45,30.1],[7.51,28.7],[7.57,29.4],[7.63,27.3],[7.69,24.6],[7.73,22.5],[7.77,15.4],[7.80,23.2],[7.85,26.6],[7.91,27.3],[7.98,32.1],[8.04,34.2],[8.10,32.8],[8.14,35.5],[8.18,41.0],[8.22,50],[8.57,50],[8.59,38.3],[8.63,40.3],[8.67,37.6],[8.71,31.4],[8.76,30.1],[8.81,36.9],[8.86,35.5],[8.90,39.6],[8.94,43.7],[8.98,50],[9.02,46.5],[9.07,41.7],[9.11,39.6],[9.14,32.8],[9.18,28.7],[9.23,33.5],[9.26,28.7],[9.33,28.0],[9.39,29.4],[9.45,28.7],[9.51,27.3],[9.57,26.0],[9.63,25.3],[9.69,23.2],[9.75,21.2],[9.82,23.9],[9.88,25.3],[9.91,27.3],[9.96,24.6],[10.01,25.3],[10.06,23.9],[10.11,23.2],[10.16,24.6],[10.18,31.4],[10.23,32.8],[10.28,34.2],[10.33,36.9],[10.38,38.3],[10.43,40.3],[10.49,41.0],[10.53,39.0],[10.58,36.9],[10.63,33.5],[10.69,31.4],[10.74,30.7],[10.80,29.4],[10.86,32.1],[10.90,34.8],[10.94,36.9],[10.98,39.0],[11.04,36.9],[11.07,34.8],[11.13,40.3],[11.17,44.4],[11.21,42.3],[11.24,39.6],[11.29,43.7],[11.33,48.5],[11.38,47.1],[11.41,48.5],[11.44,43.7],[11.48,49.9],[11.53,45.8],[11.56,45.1],[11.62,49.9],[11.66,43.7],[11.71,42.3],[11.75,46.5],[11.80,48.5],[11.84,43.7],[11.88,36.9],[11.91,45.8],[11.96,44.4],[12.00,50],[12.02,0],[12.74,0],[12.76,50],[13.01,50],[13.03,35.5],[13.06,50],[13.09,44.4],[13.13,50],[13.64,50],[13.65,0],[13.94,0],[13.96,50],[13.99,43.0],[14.02,47.1],[14.06,43.7],[14.11,50],[14.15,45.1],[14.18,40.3],[14.21,33.5],[14.23,31.4]];

const HEALTH_CARE: Pt[] = [[.02,24.4],[.09,25.5],[.13,23.2],[.18,24.0],[.25,26.3],[.31,25.5],[.37,24.0],[.43,23.2],[.49,24.0],[.55,22.8],[.61,24.0],[.67,24.8],[.74,24.8],[.80,24.0],[.86,24.8],[.92,25.2],[.98,25.5],[1.04,26.3],[1.09,26.7],[1.14,25.5],[1.19,24.0],[1.25,25.9],[1.31,26.3],[1.37,25.2],[1.44,24.8],[1.50,25.2],[1.56,24.4],[1.62,23.6],[1.68,24.8],[1.74,25.5],[1.80,24.4],[1.87,23.6],[1.93,24.8],[1.99,25.2],[2.05,23.6],[2.11,22.8],[2.17,22.0],[2.21,20.0],[2.27,21.2],[2.33,20.4],[2.39,20.8],[2.45,20.0],[2.52,18.8],[2.56,20.8],[2.63,22.0],[2.69,21.2],[2.74,20.0],[2.76,17.2],[2.81,16.1],[2.85,13.7],[2.90,15.3],[2.94,14.5],[2.99,16.1],[3.04,14.9],[3.09,15.7],[3.13,14.1],[3.18,11.7],[3.23,13.3],[3.28,14.1],[3.34,15.3],[3.40,16.1],[3.46,16.5],[3.52,17.2],[3.58,17.6],[3.64,17.6],[3.71,18.4],[3.77,18.0],[3.83,17.6],[3.89,18.0],[3.95,18.4],[4.01,18.8],[4.07,19.2],[4.13,18.0],[4.20,18.8],[4.26,19.2],[4.32,19.6],[4.38,18.4],[4.44,17.6],[4.50,17.2],[4.56,16.5],[4.63,16.1],[4.69,16.9],[4.75,17.2],[4.81,18.0],[4.87,17.6],[4.93,18.4],[4.99,19.2],[5.06,18.8],[5.12,20.0],[5.18,20.4],[5.24,21.2],[5.31,22.4],[5.36,21.2],[5.42,21.6],[5.48,20.4],[5.52,21.2],[5.57,16.9],[5.61,18.8],[5.67,18.0],[5.73,18.4],[5.79,19.6],[5.85,17.6],[5.91,19.6],[5.98,17.2],[6.04,18.0],[6.10,18.4],[6.16,18.8],[6.22,17.6],[6.28,18.4],[6.34,17.2],[6.40,18.0],[6.47,19.6],[6.53,17.2],[6.59,18.0],[6.65,18.8],[6.71,18.4],[6.77,17.6],[6.83,17.2],[6.90,17.6],[6.96,18.0],[7.02,18.4],[7.08,19.2],[7.14,19.6],[7.20,20.0],[7.26,20.0],[7.33,21.2],[7.39,22.0],[7.45,22.0],[7.51,22.8],[7.57,23.2],[7.63,22.4],[7.69,23.2],[7.75,22.0],[7.82,22.8],[7.88,23.2],[7.94,22.4],[8.00,23.2],[8.06,22.8],[8.12,20.8],[8.18,21.6],[8.25,22.0],[8.31,20.8],[8.37,21.6],[8.43,22.0],[8.49,21.2],[8.55,20.8],[8.61,21.2],[8.67,22.0],[8.74,21.6],[8.80,23.6],[8.86,22.4],[8.92,22.8],[8.98,23.2],[9.04,23.6],[9.10,25.2],[9.17,26.3],[9.23,26.7],[9.29,26.3],[9.35,26.7],[9.42,27.1],[9.48,28.3],[9.54,30.3],[9.60,29.1],[9.66,28.3],[9.72,25.5],[9.78,26.7],[9.84,28.3],[9.90,29.5],[9.96,27.1],[10.02,25.2],[10.09,23.2],[10.15,25.2],[10.21,24.8],[10.27,25.5],[10.33,24.8],[10.39,26.0],[10.45,25.5],[10.52,26.7],[10.58,26.0],[10.64,26.3],[10.70,25.5],[10.76,24.0],[10.82,22.0],[10.88,26.0],[10.94,25.5],[11.00,26.0],[11.07,25.2],[11.13,27.9],[11.19,29.1],[11.25,28.7],[11.31,32.7],[11.37,31.9],[11.44,33.8],[11.50,33.0],[11.56,32.7],[11.62,34.6],[11.66,37.4],[11.72,37.8],[11.77,35.8],[11.83,38.2],[11.90,40.2],[11.96,39.8],[12.02,42.2],[12.05,39.8],[12.09,38.2],[12.14,38.6],[12.18,36.2],[12.23,30.3],[12.28,30.7],[12.34,32.3],[12.40,33.8],[12.44,35.8],[12.47,31.9],[12.54,32.7],[12.60,33.0],[12.66,35.8],[12.71,34.3],[12.75,31.5],[12.82,29.1],[12.88,33.8],[12.94,30.3],[12.97,26.3],[13.02,30.3],[13.09,30.7],[13.15,31.5],[13.21,33.8],[13.27,33.0],[13.33,34.6],[13.39,33.0],[13.45,35.8],[13.52,36.2],[13.58,35.4],[13.64,37.8],[13.70,36.6],[13.76,37.8],[13.82,37.4],[13.88,41.0],[13.93,43.3],[13.98,43.7],[14.02,40.6],[14.06,35.4],[14.09,33.8],[14.14,31.9],[14.18,26.7],[14.22,23.2]];

const UTILITIES: Pt[] = [[.02,14.6],[.09,14.1],[.15,14.8],[.21,14.3],[.27,14.6],[.33,14.8],[.39,14.3],[.45,14.6],[.52,15.0],[.58,15.5],[.64,15.5],[.70,15.0],[.76,15.3],[.82,15.7],[.88,16.0],[.94,16.4],[1.01,16.2],[1.07,15.7],[1.13,16.0],[1.19,16.2],[1.23,15.5],[1.26,16.4],[1.31,16.8],[1.37,17.3],[1.42,17.1],[1.47,16.2],[1.52,15.7],[1.57,15.3],[1.62,14.6],[1.68,15.0],[1.74,15.5],[1.80,16.0],[1.87,15.3],[1.93,15.0],[1.99,15.5],[2.05,14.6],[2.11,14.1],[2.17,13.9],[2.23,13.2],[2.29,13.9],[2.36,14.6],[2.42,14.8],[2.48,14.6],[2.54,13.9],[2.60,14.3],[2.66,14.6],[2.72,15.0],[2.76,14.6],[2.80,12.8],[2.83,12.1],[2.88,13.7],[2.93,14.1],[2.98,13.0],[3.03,14.1],[3.08,13.2],[3.13,13.7],[3.17,12.8],[3.21,11.0],[3.26,12.3],[3.31,12.6],[3.37,12.3],[3.44,12.1],[3.50,13.0],[3.56,13.2],[3.62,13.5],[3.68,13.5],[3.74,13.2],[3.80,13.5],[3.87,13.2],[3.93,13.5],[3.99,13.9],[4.05,14.3],[4.11,13.7],[4.17,13.2],[4.23,14.1],[4.29,14.6],[4.36,14.8],[4.42,13.7],[4.48,13.2],[4.54,13.9],[4.60,14.1],[4.66,14.6],[4.72,13.9],[4.79,14.8],[4.85,15.0],[4.91,15.3],[4.97,15.0],[5.03,15.3],[5.09,15.0],[5.15,15.3],[5.21,15.0],[5.28,15.5],[5.34,16.0],[5.40,15.7],[5.46,16.2],[5.52,16.0],[5.56,14.8],[5.61,13.9],[5.64,14.6],[5.69,15.3],[5.74,14.8],[5.79,15.5],[5.84,16.2],[5.89,16.0],[5.95,16.4],[6.01,16.7],[6.07,16.2],[6.13,16.4],[6.20,16.0],[6.26,15.7],[6.32,15.3],[6.38,15.5],[6.44,16.0],[6.50,16.4],[6.56,16.2],[6.63,16.2],[6.69,16.0],[6.75,16.2],[6.81,16.0],[6.87,16.0],[6.90,14.6],[6.96,15.5],[7.02,15.7],[7.08,16.2],[7.14,16.7],[7.20,16.8],[7.26,17.1],[7.33,17.5],[7.39,17.5],[7.45,16.8],[7.51,16.2],[7.57,17.3],[7.63,16.7],[7.69,15.5],[7.75,16.0],[7.82,16.2],[7.88,16.8],[7.94,16.0],[8.00,16.7],[8.06,16.8],[8.12,16.7],[8.18,16.8],[8.25,16.7],[8.31,16.8],[8.37,16.8],[8.43,16.7],[8.49,17.1],[8.53,17.5],[8.56,16.8],[8.61,16.8],[8.67,16.7],[8.71,16.4],[8.77,16.0],[8.82,17.3],[8.86,18.2],[8.91,17.7],[8.96,18.2],[9.01,19.1],[9.06,19.3],[9.11,19.1],[9.15,18.0],[9.20,18.2],[9.26,17.7],[9.33,18.0],[9.39,17.3],[9.45,16.8],[9.51,16.7],[9.57,16.4],[9.63,17.3],[9.67,16.2],[9.72,16.8],[9.75,17.5],[9.82,18.2],[9.85,19.1],[9.90,18.6],[9.96,18.4],[10.02,18.6],[10.09,19.6],[10.15,20.0],[10.21,20.2],[10.27,20.9],[10.33,20.7],[10.40,20.5],[10.43,21.4],[10.48,21.8],[10.53,22.9],[10.58,22.2],[10.63,21.4],[10.69,21.6],[10.74,20.9],[10.80,19.6],[10.85,19.1],[10.90,20.0],[10.94,20.9],[10.99,20.5],[11.04,20.5],[11.09,20.7],[11.15,20.5],[11.20,21.1],[11.25,21.6],[11.30,22.0],[11.36,22.5],[11.41,21.8],[11.47,22.9],[11.52,23.2],[11.56,21.8],[11.61,23.6],[11.66,23.9],[11.71,23.6],[11.76,24.1],[11.81,23.9],[11.85,24.1],[11.90,24.3],[11.95,24.8],[11.99,23.9],[12.02,23.4],[12.06,22.7],[12.11,21.8],[12.16,20.9],[12.21,20.5],[12.25,21.4],[12.30,21.4],[12.34,21.8],[12.40,22.7],[12.43,23.2],[12.47,22.0],[12.51,23.4],[12.56,23.9],[12.59,23.6],[12.63,24.1],[12.67,23.6],[12.74,24.3],[12.79,23.6],[12.83,24.1],[12.88,24.8],[12.93,24.3],[12.96,23.2],[13.01,21.8],[13.06,22.5],[13.10,23.9],[13.15,25.9],[13.20,26.8],[13.25,26.1],[13.31,26.8],[13.37,26.6],[13.42,26.8],[13.47,27.0],[13.50,27.4],[13.55,27.7],[13.60,27.9],[13.64,28.1],[13.68,28.6],[13.73,27.9],[13.77,27.7],[13.82,27.9],[13.86,26.1],[13.90,26.4],[13.95,26.8],[14.00,25.9],[14.06,27.7],[14.10,27.5],[14.12,27.9],[14.15,26.1],[14.17,25.9],[14.23,20.9]];

// Latest readings shown in each legend (3/24/2020)
const LATEST = [11.9, 10.7, 8.1, 13.6, 17.1, 11.4, 0.0, 30.9, 7.6, 33.9, 26.9, 22.5];
const TITLES = ["S&P 600", "INDUSTRIALS", "CONSUMER DISCRETIONARY", "INFORMATION TECHNOLOGY", "CONSUMER STAPLES", "MATERIALS", "ENERGY", "REAL ESTATE", "FINANCIALS", "COMMUNICATION SERVICES", "HEALTH CARE", "UTILITIES"];
const SERIES = [SP600, INDUSTRIALS, CONS_DISC, INFO_TECH, CONS_STAPLES, MATERIALS, ENERGY, REAL_ESTATE, FINANCIALS, COMM_SERVICES, HEALTH_CARE, UTILITIES];
// y-axis scales: [min, max, major step, minor splits]
const Y_SCALES: [number, number, number, number][] = [
  [8, 24, 4, 4], [8, 24, 2, 2], [6, 24, 3, 3], [10, 30, 5, 5], [10, 24, 2, 2], [5, 25, 5, 5],
  [-10, 50, 10, 2], [10, 60, 10, 2], [5, 35, 5, 5], [0, 60, 10, 2], [10, 45, 5, 5], [10, 30, 5, 5],
];
const START_YEAR = 2006;
const LABEL_DATE = 2020.19;
const FIN_BREAK = 2016.7; // Real Estate removed from Financials
const COMM_BREAK = 2018.74; // Media & Entertainment added

// ---------- layout ----------
const W = 1876;
const H = 2243;
const COL_LEFT = [128, 966];
const GRID_W = 786;
const GRID_H = 294;
const TOP0 = 83;
const PITCH = 336.7;
const LEGEND_X = [435, 1274, 254, 1274, 435, 1274, 325, 1274, 345, 1184, 435, 1274];
const BLUE = "#0000FF";
const BG = "#FFFEE4";
const SANS = "'Liberation Sans', Arial, Helvetica, sans-serif";
const SERIF = "'Liberation Serif', 'Times New Roman', Times, serif";
const NOTE_FONT = `26.5px ${SERIF}`;

function txt(text: string, x: number, y: number, font: string, align: string = "left", fill: string = "#000") {
  return {
    type: "text",
    x,
    y,
    silent: true,
    style: { text, font, fill, textAlign: align, textVerticalAlign: "middle", verticalAlign: "middle" },
  };
}

export default function App() {
  const ref = useRef<HTMLDivElement>(null);

  useEffect(() => {
    if (!ref.current) return;
    const chart = echarts.init(ref.current, undefined, { renderer: "svg" });

    const grids: any[] = [];
    const xAxes: any[] = [];
    const yAxes: any[] = [];
    const series: any[] = [];
    const legends: any[] = [];
    const graphics: any[] = [];

    TITLES.forEach((title, i) => {
      const col = i % 2;
      const row = Math.floor(i / 2);
      const top = TOP0 + row * PITCH;
      const left = COL_LEFT[col];
      const [mn, mx, step, minor] = Y_SCALES[i];
      const name = `(${LATEST[i].toFixed(1)})`;

      grids.push({
        left, top, width: GRID_W, height: GRID_H,
        show: true, backgroundColor: BG, borderColor: "#000", borderWidth: 4, containLabel: false,
      });

      xAxes.push({
        type: "category", gridIndex: i, data: YEAR_LABELS, position: "bottom", boundaryGap: true,
        axisLine: { show: true, onZero: false, lineStyle: { color: "#000", width: 4 } },
        axisTick: { show: true, interval: 0, length: 22, lineStyle: { color: "#000", width: 3 } },
        axisLabel: { interval: 0, fontFamily: SERIF, fontSize: 26, color: "#000", margin: 12 },
        splitLine: { show: false },
      });
      xAxes.push({ type: "value", gridIndex: i, min: START_YEAR, max: 2022, show: false, position: "top" });

      yAxes.push({
        type: "value", gridIndex: i, position: col === 0 ? "left" : "right",
        min: mn, max: mx, interval: step,
        axisLine: { show: true, onZero: false, lineStyle: { color: "#000", width: 4 } },
        axisTick: { show: true, length: 18, lineStyle: { color: "#000", width: 2 } },
        minorTick: { show: true, splitNumber: minor, length: 10, lineStyle: { color: "#000", width: 2 } },
        splitLine: { show: false },
        minorSplitLine: { show: false },
        axisLabel: { fontFamily: SERIF, fontSize: 26, color: "#000", margin: col === 0 ? 28 : 27 },
      });

      const s: any = {
        type: "line", name, xAxisIndex: 2 * i + 1, yAxisIndex: i,
        data: SERIES[i].map(([t, v]) => [START_YEAR + t, v]),
        showSymbol: false, symbol: "none",
        lineStyle: { color: BLUE, width: 2.6 }, itemStyle: { color: BLUE },
        animation: false,
        markPoint: {
          symbol: "circle", symbolSize: 1, itemStyle: { color: "transparent" }, silent: true,
          label: { show: true, position: "right", distance: 2, formatter: "3/24", color: BLUE, fontFamily: SANS, fontSize: 26 },
          data: [{ coord: [LABEL_DATE, LATEST[i]] }],
        },
      };
      if (title === "FINANCIALS") {
        s.markLine = {
          silent: true, symbol: ["none", "none"], label: { show: false },
          lineStyle: { color: "#000", width: 2, type: "solid" },
          data: [
            [{ coord: [FIN_BREAK, 35] }, { coord: [FIN_BREAK, 32.8] }],
            [{ coord: [FIN_BREAK, 24.4] }, { coord: [FIN_BREAK, 5] }],
          ],
        };
      }
      if (title === "COMMUNICATION SERVICES") {
        s.markLine = {
          silent: true, symbol: ["none", "none"], label: { show: false },
          lineStyle: { color: "#000", width: 1.6, type: "solid" },
          data: [[{ coord: [COMM_BREAK, 60] }, { coord: [COMM_BREAK, 0] }]],
        };
      }
      series.push(s);

      legends.push({
        show: true, data: [name], left: LEGEND_X[i], top: top + 266 - 16,
        icon: "rect", itemWidth: 56, itemHeight: 5, selectedMode: false, padding: 0,
        textStyle: { fontFamily: SANS, fontSize: 31, color: "#000", lineHeight: 32, padding: [0, 0, 0, 12] },
      });

      graphics.push(txt(title, left + 20, top + 24, `bold 33px ${SANS}`));
    });

    const rowTop = (r: number) => TOP0 + r * PITCH;
    graphics.push(txt("Figure 11.", 130, 52, `bold 34px ${SANS}`));
    graphics.push(txt("(daily forward P/E)", 148, rowTop(0) + 62, `30px ${SANS}`));
    // Energy notes
    graphics.push(txt("P/E capped at 40", 724, rowTop(3) + 27, NOTE_FONT, "center"));
    graphics.push(txt("P/E not available during 2015-2017", 148, rowTop(3) + 74, NOTE_FONT));
    graphics.push(txt("and 2020 because forward earnings", 148, rowTop(3) + 101, NOTE_FONT));
    graphics.push(txt("are negative", 148, rowTop(3) + 127, NOTE_FONT));
    // Real estate note
    graphics.push(txt("P/E capped at 50.", 1347, rowTop(3) + 39, NOTE_FONT));
    // Financials note
    graphics.push(txt("Real Estate", 652, rowTop(4) + 58, NOTE_FONT, "center"));
    graphics.push(txt("removed", 652, rowTop(4) + 84, NOTE_FONT, "center"));
    // Communication services notes
    graphics.push(txt("P/E capped", 1203, rowTop(4) + 62, NOTE_FONT));
    graphics.push(txt("at 50.", 1203, rowTop(4) + 88, NOTE_FONT));
    graphics.push(txt("Media & Entertainment", 1590, rowTop(4) + 252, NOTE_FONT, "center"));
    graphics.push(txt("added", 1590, rowTop(4) + 278, NOTE_FONT, "center"));
    // Source
    graphics.push(txt("yardeni.com", 1737, rowTop(5) + 277, `italic bold 29px ${SERIF}`, "right"));
    graphics.push(txt("* Daily stock price index divided by 52-week forward consensus expected operating earnings per share.", 130, 2152, NOTE_FONT));
    graphics.push(txt("Source: I/B/E/S data by Refinitiv and Standard & Poor\u2019s Corporation.", 143, 2188, NOTE_FONT));

    chart.setOption({
      animation: false,
      backgroundColor: "#FFFFFF",
      grid: grids,
      xAxis: xAxes,
      yAxis: yAxes,
      series,
      legend: legends,
      graphic: { elements: graphics },
    });

    return () => chart.dispose();
  }, []);

  return (
    <div
      ref={ref}
      style={{ position: "absolute", left: 0, top: 0, width: W, height: H, background: "#FFFFFF" }}
    />
  );
}
